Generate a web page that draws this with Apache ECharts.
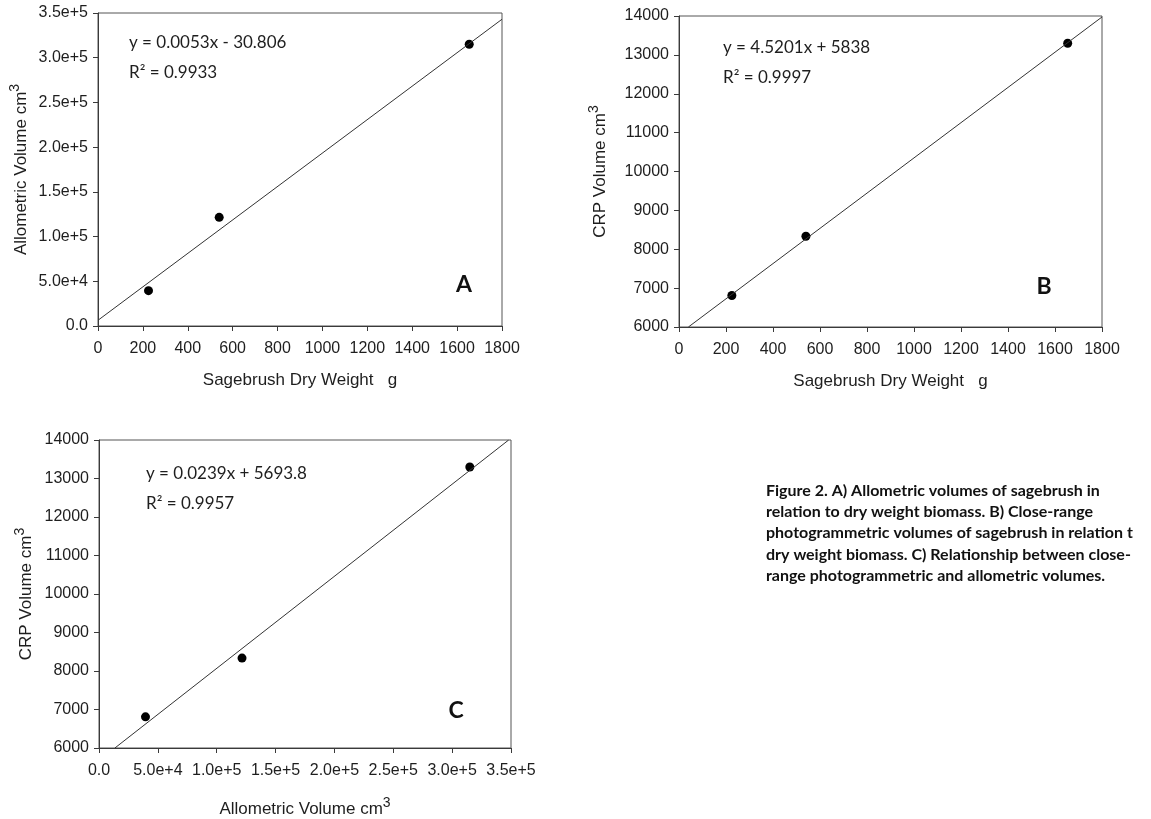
<!DOCTYPE html>
<html>
<head>
<meta charset="utf-8">
<script src="https://cdn.jsdelivr.net/npm/echarts@6/dist/echarts.min.js"></script>
<style>
html,body{margin:0;padding:0;background:#fff;}
#chart{width:1151px;height:819px;}
</style>
</head>
<body>
<div id="chart"></div>
<script>
// ---- data ----
const dryWeight = [225, 540, 1654];            // Sagebrush dry weight, g
const allometricVol = [39500, 121500, 315000]; // Allometric volume, cm3
const crpVol = [6810, 8335, 13300];            // CRP volume, cm3

// fitted-line endpoints as drawn in each panel
const fitAx = [0, 1800],      fitAy = [6400, 343000];
const fitBx = [40, 1800],     fitBy = [6000, 13975];
const fitCx = [13500, 348000], fitCy = [6000, 14000];

// tick labels
const sciTicks = ['0.0', '5.0e+4', '1.0e+5', '1.5e+5', '2.0e+5', '2.5e+5', '3.0e+5', '3.5e+5'];
const weightTicks = ['0', '200', '400', '600', '800', '1000', '1200', '1400', '1600', '1800'];
const crpTicks = ['6000', '7000', '8000', '9000', '10000', '11000', '12000', '13000', '14000'];

const eqA = ['y = 0.0053x - 30.806', 'R² = 0.9933'];
const eqB = ['y = 4.5201x + 5838', 'R² = 0.9997'];
const eqC = ['y = 0.0239x + 5693.8', 'R² = 0.9957'];

const captionLines = [
  'Figure 2. A) Allometric volumes of sagebrush in',
  'relation to dry weight biomass. B) Close-range',
  'photogrammetric volumes of sagebrush in relation t',
  'dry weight biomass. C) Relationship between close-',
  'range photogrammetric and allometric volumes.'
];

// ---- styling ----
const AX = '#3a3a3a';
const TXT = '#1e1e1e';
const ARIAL = '"Liberation Sans", Arial, sans-serif';
const CAL = 'Lato, "Open Sans", sans-serif';

function pair(xs, ys) { return xs.map((x, i) => [x, ys[i]]); }

function nameRich() {
  return {
    rich: {
      a: { fontSize: 17, fontFamily: ARIAL, color: TXT, lineHeight: 22, verticalAlign: 'bottom' },
      s: { fontSize: 14, fontFamily: ARIAL, color: TXT, lineHeight: 12, verticalAlign: 'top' }
    }
  };
}

function valAxis(o) {
  const base = {
    type: 'value',
    axisLine: { show: true, lineStyle: { color: AX, width: 1 } },
    axisTick: { show: true, inside: false, length: 5, lineStyle: { color: AX } },
    splitLine: { show: false },
    axisLabel: { fontSize: 16, fontFamily: ARIAL, color: TXT, margin: 10 },
    nameLocation: 'middle'
  };
  return Object.assign(base, o, {
    axisLabel: Object.assign({}, base.axisLabel, o.axisLabel || {})
  });
}

const sciFmt = v => sciTicks[Math.round(v / 50000)];
const wFmt = v => weightTicks[Math.round(v / 200)];
const cFmt = v => crpTicks[Math.round((v - 6000) / 1000)];

const gridStyle = { show: true, borderColor: '#555', borderWidth: 1, backgroundColor: 'transparent' };
const xNameStyle = { fontSize: 17, fontFamily: ARIAL, color: TXT };

const option = {
  backgroundColor: '#fff',
  animation: false,
  grid: [
    Object.assign({ left: 98, top: 13, width: 404, height: 313 }, gridStyle),
    Object.assign({ left: 679, top: 16, width: 423, height: 311 }, gridStyle),
    Object.assign({ left: 99, top: 440, width: 412, height: 308 }, gridStyle)
  ],
  xAxis: [
    valAxis({ gridIndex: 0, min: 0, max: 1800, interval: 200,
      axisLabel: { formatter: wFmt, margin: 15 },
      name: 'Sagebrush Dry Weight   g', nameGap: 46, nameTextStyle: xNameStyle }),
    valAxis({ gridIndex: 1, min: 0, max: 1800, interval: 200,
      axisLabel: { formatter: wFmt, margin: 15 },
      name: 'Sagebrush Dry Weight   g', nameGap: 46, nameTextStyle: xNameStyle }),
    valAxis({ gridIndex: 2, min: 0, max: 350000, interval: 50000,
      axisLabel: { formatter: sciFmt, margin: 15 },
      name: '{a|Allometric Volume cm}{s|3}', nameGap: 48,
      nameTextStyle: nameRich() })
  ],
  yAxis: [
    valAxis({ gridIndex: 0, min: 0, max: 350000, interval: 50000,
      axisLabel: { formatter: sciFmt },
      name: '{a|Allometric Volume cm}{s|3}', nameGap: 68, nameRotate: 90,
      nameTextStyle: nameRich() }),
    valAxis({ gridIndex: 1, min: 6000, max: 14000, interval: 1000,
      axisLabel: { formatter: cFmt },
      name: '{a|CRP Volume cm}{s|3}', nameGap: 70, nameRotate: 90,
      nameTextStyle: nameRich() }),
    valAxis({ gridIndex: 2, min: 6000, max: 14000, interval: 1000,
      axisLabel: { formatter: cFmt },
      name: '{a|CRP Volume cm}{s|3}', nameGap: 64, nameRotate: 90,
      nameTextStyle: nameRich() })
  ],
  series: [
    { type: 'line', xAxisIndex: 0, yAxisIndex: 0, data: pair(fitAx, fitAy), showSymbol: false,
      lineStyle: { color: '#333', width: 1 }, silent: true },
    { type: 'scatter', xAxisIndex: 0, yAxisIndex: 0, data: pair(dryWeight, allometricVol),
      symbol: 'circle', symbolSize: 9, itemStyle: { color: '#000', opacity: 1 } },
    { type: 'line', xAxisIndex: 1, yAxisIndex: 1, data: pair(fitBx, fitBy), showSymbol: false,
      lineStyle: { color: '#333', width: 1 }, silent: true },
    { type: 'scatter', xAxisIndex: 1, yAxisIndex: 1, data: pair(dryWeight, crpVol),
      symbol: 'circle', symbolSize: 9, itemStyle: { color: '#000', opacity: 1 } },
    { type: 'line', xAxisIndex: 2, yAxisIndex: 2, data: pair(fitCx, fitCy), showSymbol: false,
      lineStyle: { color: '#333', width: 1 }, silent: true },
    { type: 'scatter', xAxisIndex: 2, yAxisIndex: 2, data: pair(allometricVol, crpVol),
      symbol: 'circle', symbolSize: 9, itemStyle: { color: '#000', opacity: 1 } }
  ],
  graphic: []
};

function eqBlock(x, y, lines) {
  option.graphic.push({
    type: 'text', left: x, top: y, silent: true,
    style: { text: lines.join('\n'), fontSize: 17, lineHeight: 30, fontFamily: CAL, fill: TXT }
  });
}
eqBlock(129, 28, eqA);
eqBlock(723, 33, eqB);
eqBlock(146, 459, eqC);

function letter(cx, cy, t) {
  option.graphic.push({
    type: 'text', x: cx, y: cy, silent: true,
    style: { text: t, fontSize: 23, fontWeight: 'bold', fontFamily: CAL, fill: '#111',
      align: 'center', verticalAlign: 'middle' }
  });
}
letter(464, 285, 'A');
letter(1044, 287, 'B');
letter(456, 711, 'C');

option.graphic.push({
  type: 'text', left: 766, top: 480, silent: true,
  style: { text: captionLines.join('\n'), fontSize: 16, fontWeight: 'bold', lineHeight: 21.3,
    fontFamily: CAL, fill: '#111' }
});

const chart = echarts.init(document.getElementById('chart'), null, { renderer: 'canvas' });
chart.setOption(option);
</script>
</body>
</html>
